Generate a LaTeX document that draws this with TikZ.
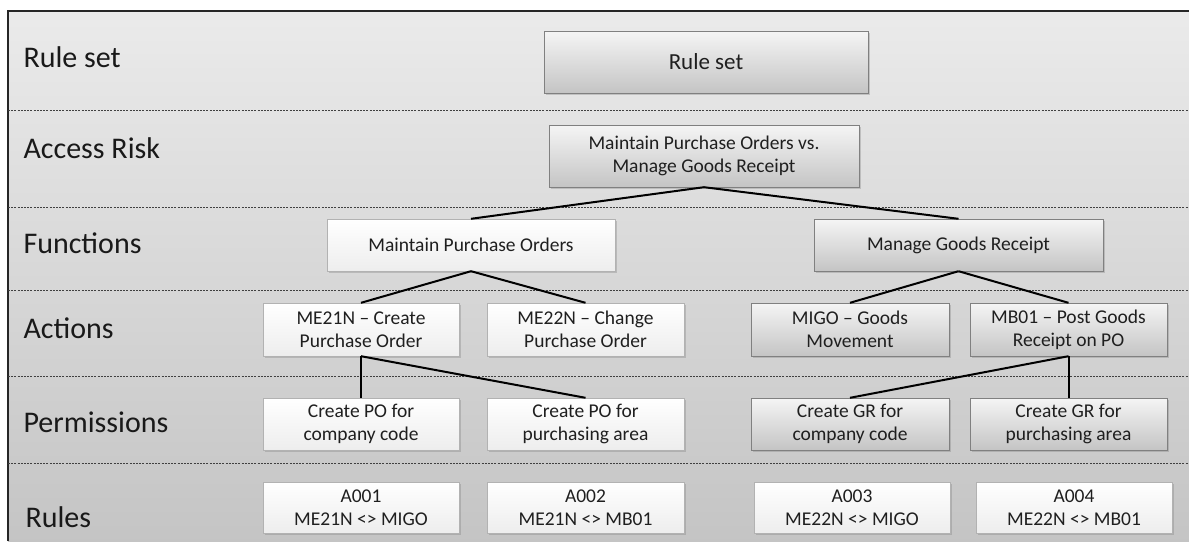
\documentclass[tikz,border=0pt]{standalone}
\usepackage{fontspec}
\setmainfont{Carlito}
\usetikzlibrary{shadows}

\tikzset{
  layerbox/.style={draw=black!30, shading=axis, top color=white, bottom color=black!7,
    drop shadow={shadow xshift=1.5pt, shadow yshift=-1.5pt, opacity=0.35},
    inner sep=2pt, align=center, text=black!88, font=\fontsize{19.5}{23}\selectfont},
  greybox/.style={layerbox, draw=black!50, top color=black!4, bottom color=black!23},
  whitebox/.style={layerbox},
  layerlabel/.style={anchor=base west, text=black!90, font=\fontsize{30}{32}\selectfont},
  divider/.style={black!75, line width=0.8pt, dash pattern=on 2pt off 1.2pt},
  link/.style={black, line width=2pt}
}

\begin{document}
\begin{tikzpicture}[x=1pt, y=-1pt]

  \useasboundingbox (0,0) rectangle (1189,541);

  % Hintergrund und Rahmen
  \shade[top color=black!8, bottom color=black!23] (8,11) rectangle (1189,541);
  \draw[black!85, line width=1.3pt] (8,541) -- (8,11) -- (1189,11);

  % Trennlinien der Ebenen
  \foreach \yy in {110,207,290,376,463}
    \draw[divider] (8,\yy) -- (1189,\yy);

  % Ebenen-Beschriftung
  \node[layerlabel] (lblset)   at (20,67)  {Rule set};
  \node[layerlabel] (lblrisk)  at (20,158) {Access Risk};
  \node[layerlabel] (lblfunc)  at (20,253) {Functions};
  \node[layerlabel] (lblact)   at (20,338) {Actions};
  \node[layerlabel] (lblperm)  at (20,432) {Permissions};
  \node[layerlabel] (lblrules) at (22,527) {Rules};

  % Rule set und Access Risk
  \node[greybox, minimum width=324pt, minimum height=62pt, font=\fontsize{23}{26}\selectfont]
    (ruleset) at (706,62) {Rule set};
  \node[greybox, minimum width=310pt, minimum height=62pt]
    (risk) at (704,156) {Maintain Purchase Orders vs.\\Manage Goods Receipt};

  % Functions
  \node[whitebox, minimum width=288pt, minimum height=52pt] (fnpo) at (471,245) {Maintain Purchase Orders};
  \node[greybox, minimum width=289pt, minimum height=52pt] (fngr) at (958.5,245) {Manage Goods Receipt};

  % Actions
  \node[whitebox, minimum width=196pt, minimum height=53pt] (acme21) at (361,329.5) {ME21N -- Create\\Purchase Order};
  \node[whitebox, minimum width=197pt, minimum height=53pt] (acme22) at (585.5,329.5) {ME22N -- Change\\Purchase Order};
  \node[greybox, minimum width=198pt, minimum height=53pt] (acmigo) at (850,329.5) {MIGO -- Goods\\Movement};
  \node[greybox, minimum width=197pt, minimum height=53pt] (acmb01) at (1068.5,329.5) {MB01 -- Post Goods\\Receipt on PO};

  % Permissions
  \node[whitebox, minimum width=196pt, minimum height=52pt] (pmpoco) at (361,424) {Create PO for\\company code};
  \node[whitebox, minimum width=197pt, minimum height=52pt] (pmpoar) at (585.5,424) {Create PO for\\purchasing area};
  \node[greybox, minimum width=198pt, minimum height=52pt] (pmgrco) at (850,424) {Create GR for\\company code};
  \node[greybox, minimum width=197pt, minimum height=52pt] (pmgrar) at (1068.5,424) {Create GR for\\purchasing area};

  % Rules
  \node[whitebox, minimum width=196pt, minimum height=51pt] (rla001) at (361,507.5) {A001\\ME21N {<>} MIGO};
  \node[whitebox, minimum width=197pt, minimum height=51pt] (rla002) at (585.5,507.5) {A002\\ME21N {<>} MB01};
  \node[whitebox, minimum width=196pt, minimum height=51pt] (rla003) at (852,507.5) {A003\\ME22N {<>} MIGO};
  \node[whitebox, minimum width=196pt, minimum height=51pt] (rla004) at (1074,507.5) {A004\\ME22N {<>} MB01};

  % Verbindungen
  \draw[link] (risk.south) -- (fnpo.north);
  \draw[link] (risk.south) -- (fngr.north);
  \draw[link] (fnpo.south) -- (acme21.north);
  \draw[link] (fnpo.south) -- (acme22.north);
  \draw[link] (fngr.south) -- (acmigo.north);
  \draw[link] (fngr.south) -- (acmb01.north);
  \draw[link] (acme21.south) -- (pmpoco.north);
  \draw[link] (acme21.south) -- (pmpoar.north);
  \draw[link] (acmb01.south) -- (pmgrco.north);
  \draw[link] (acmb01.south) -- (pmgrar.north);

\end{tikzpicture}
\end{document}
